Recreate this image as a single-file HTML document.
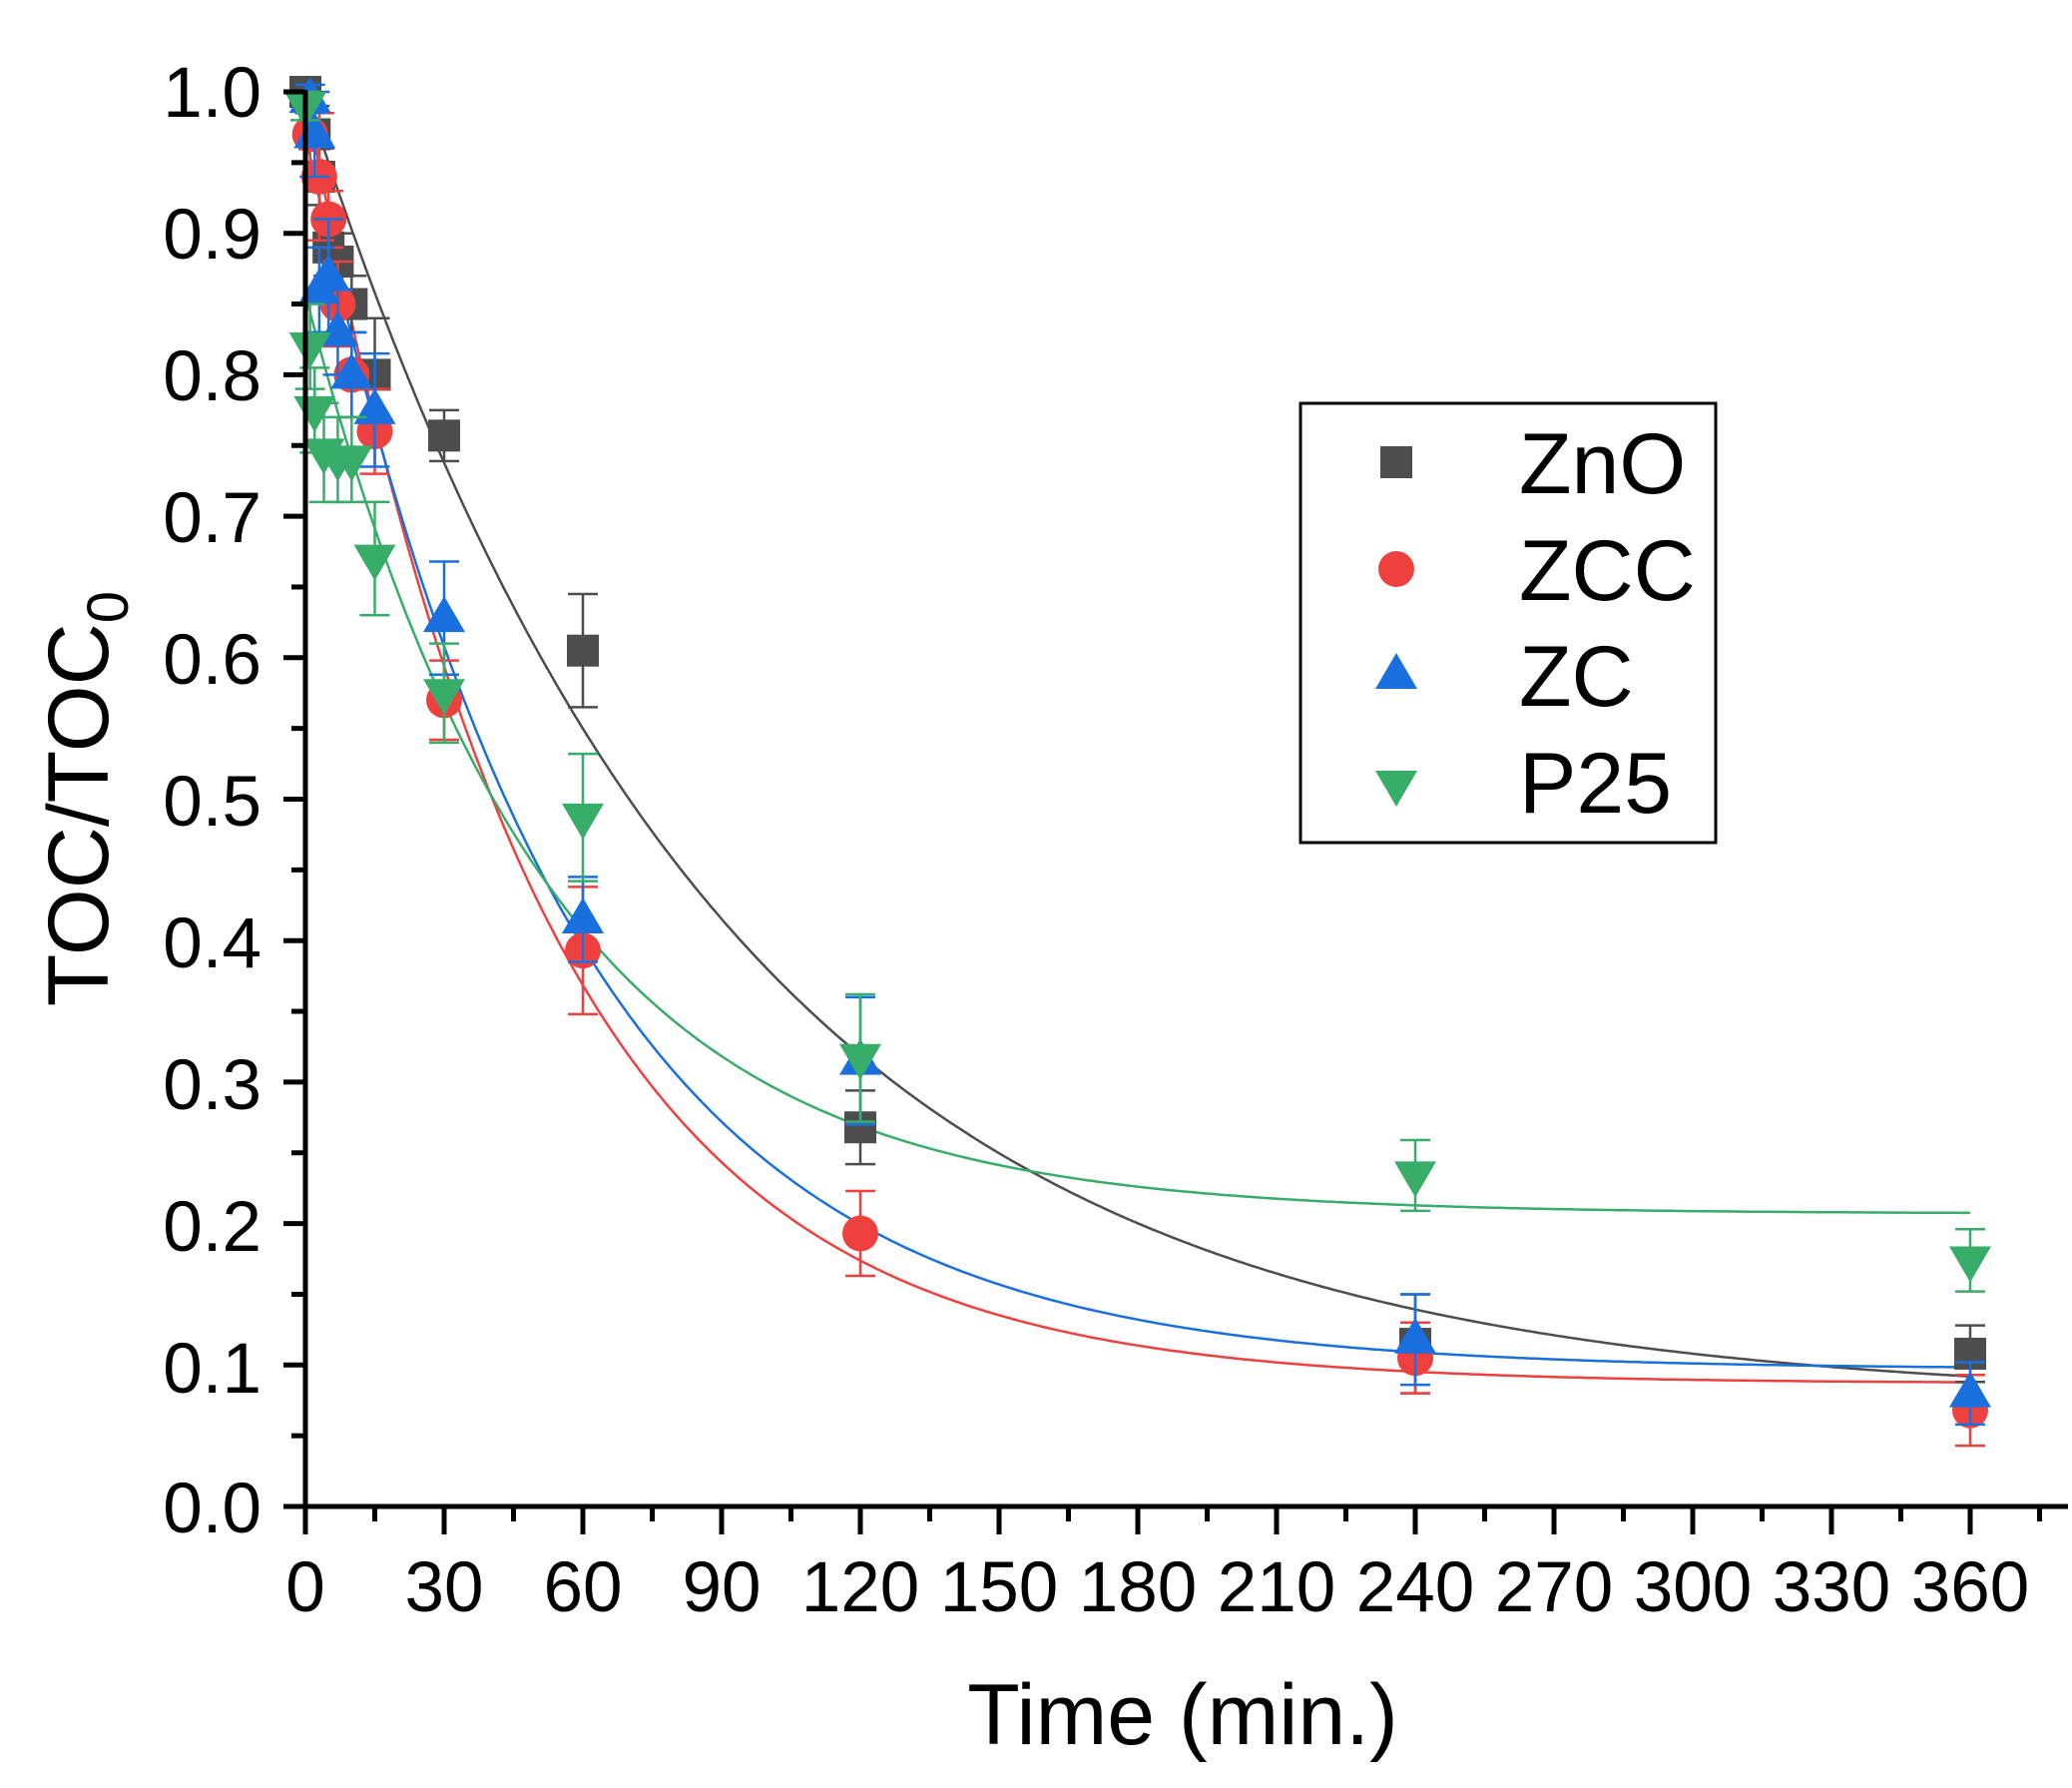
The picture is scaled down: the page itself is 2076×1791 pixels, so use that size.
<!DOCTYPE html>
<html><head><meta charset="utf-8"><style>
html,body{margin:0;padding:0;background:#fff;}
svg{display:block;font-family:"Liberation Sans",Arial,sans-serif;}
</style></head><body>
<svg id="s" width="2076" height="1791" viewBox="0 0 2076 1791" xmlns="http://www.w3.org/2000/svg">
<rect width="2076" height="1791" fill="#fff"/>
<g id="plot"></g>
<g id="axes" stroke="#000" stroke-width="5" fill="none"></g>
<g font-size="71" text-anchor="end" fill="#000">
<text x="262" y="117">1.0</text>
<text x="262" y="259">0.9</text>
<text x="262" y="401">0.8</text>
<text x="262" y="543">0.7</text>
<text x="262" y="685">0.6</text>
<text x="262" y="827">0.5</text>
<text x="262" y="969">0.4</text>
<text x="262" y="1111">0.3</text>
<text x="262" y="1253">0.2</text>
<text x="262" y="1395">0.1</text>
<text x="262" y="1535">0.0</text>
</g>
<g font-size="71" text-anchor="middle" fill="#000">
<text x="306" y="1614">0</text>
<text x="445" y="1614">30</text>
<text x="584" y="1614">60</text>
<text x="723" y="1614">90</text>
<text x="862" y="1614">120</text>
<text x="1001" y="1614">150</text>
<text x="1140" y="1614">180</text>
<text x="1279" y="1614">210</text>
<text x="1418" y="1614">240</text>
<text x="1557" y="1614">270</text>
<text x="1696" y="1614">300</text>
<text x="1835" y="1614">330</text>
<text x="1974" y="1614">360</text>
</g>
<text x="1185" y="1747" font-size="86" text-anchor="middle">Time (min.)</text>
<text transform="translate(108,800) rotate(-90)" font-size="86" text-anchor="middle">TOC/TOC<tspan font-size="58" dy="20">0</tspan></text>
<rect x="1303" y="404" width="416" height="440" fill="#fff" stroke="#000" stroke-width="3"/>
<rect x="1383" y="447" width="32" height="32" fill="#4d4d4d"/>
<circle cx="1399" cy="570" r="18" fill="#ef4040"/>
<polygon points="1399,654 1420,690 1378,690" fill="#1a6fdf"/>
<polygon points="1378,772 1420,772 1399,808" fill="#38ad6a"/>
<g font-size="86" fill="#000">
<text x="1522" y="494">ZnO</text>
<text x="1522" y="601">ZCC</text>
<text x="1522" y="707">ZC</text>
<text x="1522" y="814">P25</text>
</g>
</svg>
<script>
var X0=306,XS=(1974-306)/360,Y0=1509,YS=1417;
function X(t){return X0+t*XS}function Y(v){return Y0-v*YS}
var ns="http://www.w3.org/2000/svg";
var plot=document.getElementById('plot'),axes=document.getElementById('axes');
function el(n,a,p){var e=document.createElementNS(ns,n);for(var k in a)e.setAttribute(k,a[k]);(p||plot).appendChild(e);return e}
// axes
el('line',{x1:306,y1:90,x2:306,y2:1511},axes);
el('line',{x1:284,y1:1509,x2:2072,y2:1509},axes);
for(var i=0;i<=20;i++){var y=Y(i*0.05);el('line',{x1:i%2?292:284,y1:y,x2:306,y2:y},axes);}
for(var t=0;t<=375;t+=15){var x=X(t);el('line',{x1:x,y1:1509,x2:x,y2:t%30?1524:1537},axes);}
var S=[
{c:'#4d4d4d',m:'s',A:0.075,B:0.925,tau:90,t0:0,
 d:[[0,1,.01],[2,.97,.02],[3,.94,.02],[5,.89,.02],[7,.88,.02],[10,.85,.02],[15,.80,.04],[30,.757,.018],[60,.605,.04],[120,.268,.026],[240,.115,.035],[360,.108,.02]]},
{c:'#ef4040',m:'o',A:0.087,B:0.913,tau:51,t0:0,
 d:[[1,.97,.02],[3,.94,.045],[5,.91,.02],[7,.85,.03],[10,.80,.03],[15,.76,.03],[30,.57,.028],[60,.393,.045],[120,.193,.03],[240,.105,.025],[360,.068,.025]]},
{c:'#1a6fdf',m:'^',A:0.097,B:0.873,tau:56,t0:0,
 d:[[1,.995,.01],[2,.97,.03],[3,.86,.03],[5,.87,.04],[7,.83,.03],[10,.80,.03],[15,.775,.04],[30,.628,.04],[60,.415,.03],[120,.315,.045],[240,.118,.032],[360,.08,.022]]},
{c:'#38ad6a',m:'v',A:0.207,B:0.65,tau:51,t0:0,
 d:[[0,.99,.01],[1,.82,.03],[2,.775,.03],[4,.745,.035],[7,.74,.03],[10,.74,.03],[15,.67,.04],[30,.575,.035],[60,.487,.045],[120,.317,.045],[240,.234,.025],[360,.174,.022]]}
];
S.forEach(function(s){
 var p='';for(var t=0;t<=360;t+=1){p+=(t?'L':'M')+X(t).toFixed(1)+','+Y(s.A+s.B*Math.exp(-t/s.tau)).toFixed(1);}
 el('path',{d:p,fill:'none',stroke:s.c,'stroke-width':2.5});
});
S.forEach(function(s){
 s.d.forEach(function(q){var x=X(q[0]),y=Y(q[1]),e=q[2]*YS;
  el('line',{x1:x,y1:y-e,x2:x,y2:y+e,stroke:s.c,'stroke-width':2.5});
  el('line',{x1:x-15,y1:y-e,x2:x+15,y2:y-e,stroke:s.c,'stroke-width':2.5});
  el('line',{x1:x-15,y1:y+e,x2:x+15,y2:y+e,stroke:s.c,'stroke-width':2.5});
  if(s.m=='s')el('rect',{x:x-16,y:y-16,width:32,height:32,fill:s.c});
  else if(s.m=='o')el('circle',{cx:x,cy:y,r:18,fill:s.c});
  else if(s.m=='^')el('polygon',{points:(x)+','+(y-22)+' '+(x+21)+','+(y+14)+' '+(x-21)+','+(y+14),fill:s.c});
  else el('polygon',{points:(x-21)+','+(y-14)+' '+(x+21)+','+(y-14)+' '+x+','+(y+22),fill:s.c});
 });
});
</script>
</body></html>
